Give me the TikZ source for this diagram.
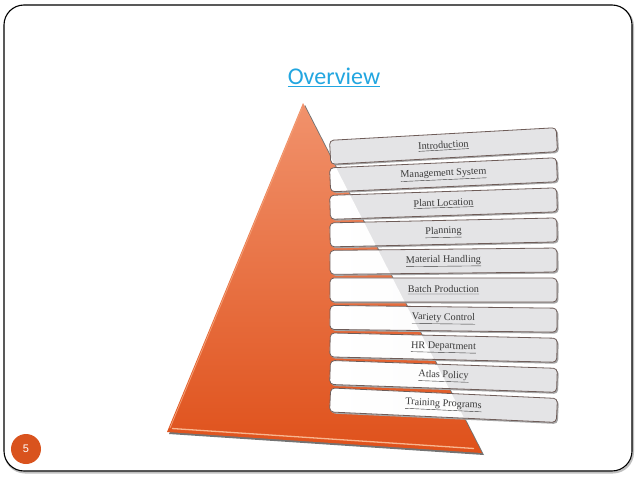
\documentclass[tikz,border=0pt]{standalone}
\usepackage{fontspec}
\setmainfont{Liberation Serif}
\newfontfamily\carlito{Carlito}
\newfontfamily\libsans{Liberation Sans}
\definecolor{triTop}{HTML}{F1926C}
\definecolor{triMid}{HTML}{EA6733}
\definecolor{triBot}{HTML}{DF511B}
\definecolor{triLight}{HTML}{F8B690}
\definecolor{boxgray}{HTML}{E4E4E6}
\definecolor{boxline}{HTML}{6E5C58}
\definecolor{titleblue}{HTML}{22A6E0}
\definecolor{numorange}{HTML}{D9531E}
\definecolor{itemtext}{HTML}{3A3A3A}
\begin{document}
\begin{tikzpicture}[x=1pt,y=-1pt,
  itembox/.style={minimum width=227pt, minimum height=24pt, rounded corners=4pt, inner sep=0pt},
  itemtxt/.style={font=\fontsize{10.2}{11}\selectfont, text=itemtext},
  framestyle/.style={line width=1.1pt, rounded corners=20pt}]
\useasboundingbox (0,0) rectangle (638,479);
% frame
\draw[framestyle, black!25, line width=2pt] (5,6.5) rectangle (633,472.5);
\draw[framestyle, fill=white] (4,5) rectangle (632,471);
% title
\node[font=\carlito\fontsize{24}{28}\selectfont, text=titleblue] (title) at (334,77) {\underline{Overview}};
% triangle
\coordinate (apex) at (303,103);
\coordinate (bl) at (167,432);
\coordinate (br) at (482,453);
\fill[black!55] ([shift={(2,2)}]apex) -- ([shift={(2,2)}]bl) -- ([shift={(2,2)}]br) -- cycle;
\shade[top color=triTop, middle color=triMid, bottom color=triBot] (apex) -- (bl) -- (br) -- cycle;
\draw[triLight, line width=1.3pt] (172,428.5) -- (474,448.5);
\draw[triLight!70!triMid, line width=0.8pt] (302,108) -- (170,428);
% boxes
\foreach \t [count=\i] in {Introduction, Management System, Plant Location, Planning, Material Handling, Batch Production, Variety Control, HR Department, Atlas Policy, Training Programs} {
  \pgfmathsetmacro\yy{146+28.8*(\i-1)}
  \pgfmathsetmacro\ang{3.2-0.65*(\i-1)}
  \fill[black!35, rounded corners=4pt, rotate around={\ang:(443.5,\yy)}] (331.5,\yy-10.5) rectangle (558.5,\yy+13.5);
  \node[itembox, fill=boxgray, rotate=\ang] (b\i) at (443.5,\yy) {};
  \begin{scope}
    \clip (apex) -- (bl) -- (br) -- cycle;
    \node[itembox, left color=white, right color=white!80!boxgray, rotate=\ang] at (443.5,\yy) {};
  \end{scope}
  \node[itembox, itemtxt, draw=boxline, line width=0.8pt, rotate=\ang] (t\i) at (443.5,\yy) {\underline{\t}};
}
% page number
\node[circle, fill=numorange, minimum size=30pt, inner sep=0pt, text=white, font=\libsans\fontsize{11}{12}\selectfont] (num) at (26,449) {5};
\end{tikzpicture}
\end{document}
